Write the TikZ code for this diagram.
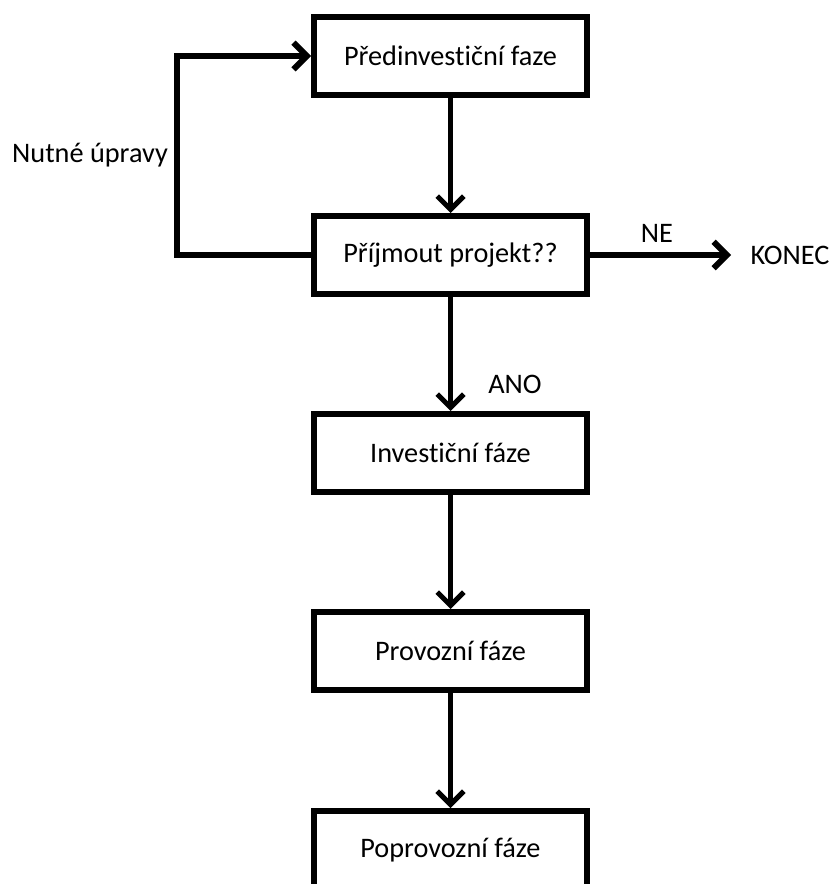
\documentclass[tikz,border=0pt]{standalone}
\usepackage{fontspec}
\setmainfont{Carlito}[Ligatures=NoCommon]
\usetikzlibrary{arrows.meta}
\tikzset{
    faze/.style={draw, line width=4.5pt, minimum width=204.75pt, minimum height=58.5pt, inner sep=0pt},
    sipka/.style={line width=3.75pt, -{Straight Barb[length=10pt,width=20pt]}},
    popis/.style={font=\fontsize{21.2}{25}\selectfont}
}
\begin{document}
\begin{tikzpicture}[x=0.75pt,y=-0.75pt,every node/.style={popis}]
    \useasboundingbox (0,0) rectangle (838,884);
    \clip (0,0) rectangle (838,884);
    \node[faze] (pred) at (450.5,56) {Předinvestiční faze};
    \node[faze] (prij) at (450.5,255) {Příjmout projekt??};
    \node[faze] (inv) at (450.5,453) {Investiční fáze};
    \node[faze] (prov) at (450.5,651) {Provozní fáze};
    \node[faze] (poprov) at (450.5,850) {Poprovozní fáze};
    \node (konec) at (790,255) {KONEC};
    \node (ne) at (657,233) {NE};
    \node (ano) at (515,384) {ANO};
    \node (upravy) at (90,155) {Nutné úpravy};
    \coordinate (roh) at (177,150);
    \draw[sipka] (pred) -- (prij);
    \draw[sipka] (prij) -- (inv);
    \draw[sipka] (inv) -- (prov);
    \draw[sipka] (prov) -- (poprov);
    \draw[sipka, line width=4.5pt, shorten >=11pt] (prij.east) -- (konec.west);
    \draw[sipka, line width=4.5pt] (prij.west) -| (roh) |- (pred.west);
\end{tikzpicture}
\end{document}
